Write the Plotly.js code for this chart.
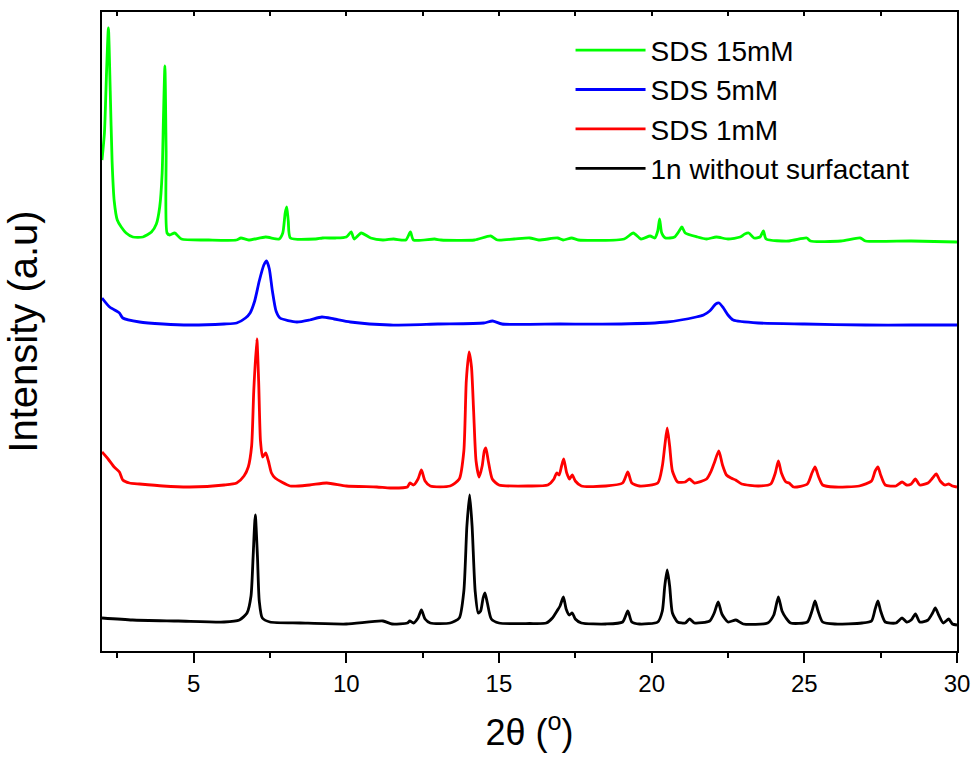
<!DOCTYPE html>
<html>
<head>
<meta charset="utf-8">
<script src="https://cdn.plot.ly/plotly-3.0.1.min.js"></script>
<style>html,body{margin:0;padding:0;background:#fff;}#chart{width:972px;height:758px;}</style>
</head>
<body>
<div id="chart"></div>
<script>
// 1n without surfactant
var blackX = [2.0,3.0,4.5,6.0,6.5,6.75,6.88,6.95,7.02,7.09,7.15,7.25,7.5,8.5,10,11.2,11.5,12.0,12.08,12.2,12.35,12.46,12.58,12.75,13.4,13.7,13.85,13.95,14.04,14.12,14.22,14.32,14.4,14.48,14.54,14.62,14.75,15.0,16.0,16.55,16.75,16.9,17.0,17.11,17.2,17.3,17.4,17.5,17.7,18.5,19.05,19.22,19.35,19.6,20.2,20.35,20.43,20.51,20.59,20.68,20.85,21.1,21.24,21.4,21.9,22.05,22.18,22.3,22.5,22.76,23.0,23.8,24.0,24.15,24.27,24.4,24.55,25.1,25.25,25.35,25.45,25.6,26.0,26.89,27.2,27.32,27.41,27.5,27.65,28.0,28.2,28.35,28.5,28.64,28.78,29.05,29.2,29.29,29.4,29.55,29.73,29.85,30];
var blackY = [33,31,30,29,31,38,55,95,136,95,50,33,29,28,27,30,27,28,30,28,33,41,32,28,28,33,60,125,156,125,60,38,40,53,58,48,32,28,27.5,28,33,40,45,54,42,36,38,32,28,27,29,40,29,27,29,40,65,81,65,38,29,28,32,28,30,38,49,37,29,31,27,28,36,54,40,33,28,29,40,50,40,29,27,28,30,42,50,40,29,28,33,29,31,37,29,31,38,43,36,28,32,27,26];

// SDS 1mM
var redX = [2.0,2.2,2.4,2.57,2.68,2.9,3.23,4.0,4.87,6.0,6.41,6.65,6.79,6.9,6.97,7.07,7.13,7.19,7.26,7.36,7.45,7.55,7.67,8.16,8.8,9.36,10.0,11.0,11.44,12.0,12.08,12.2,12.35,12.46,12.58,12.75,13.4,13.7,13.85,13.93,14.02,14.1,14.17,14.25,14.35,14.45,14.52,14.57,14.65,14.78,15.0,16.0,16.6,16.8,16.89,16.97,17.05,17.12,17.22,17.31,17.4,17.5,17.7,18.5,19.05,19.22,19.35,19.6,20.2,20.35,20.43,20.51,20.59,20.68,20.85,21.1,21.24,21.4,21.8,21.95,22.05,22.2,22.32,22.45,22.6,22.75,22.95,23.5,23.9,24.05,24.15,24.25,24.4,24.5,24.65,25.1,25.25,25.35,25.47,25.6,26.0,26.8,27.2,27.32,27.41,27.5,27.65,28.0,28.2,28.35,28.5,28.64,28.78,29.05,29.2,29.32,29.45,29.6,29.73,29.85,30];
var redY = [199,192,184,179,171,168,167,165,164,166,168,175,184,205,260,312,270,210,194,198,190,178,173,165,166,168,165,164,163,164,168,166,172,181,170,165,165,172,200,270,299,284,240,190,174,185,200,203,190,172,166,165,166,172,178,176,185,192,178,172,176,170,165,165,168,179,168,165,168,185,205,223,205,180,169,169,172,168,172,180,188,200,186,176,173,171,167,165,167,178,190,178,169,168,164,167,178,184,174,166,164,165,170,180,184,176,166,165,169,166,167,172,166,168,173,177,170,166,167,165,164];

// SDS 5mM
var blueX = [2.0,2.25,2.57,2.68,3.23,4.0,4.87,6.0,6.41,6.7,6.85,7.0,7.15,7.3,7.39,7.48,7.58,7.7,7.83,8.38,8.8,9.2,9.6,10.13,11.44,13,14.5,14.79,15.1,17,19,20.5,21.46,21.7,21.9,22.1,22.21,22.35,22.5,22.67,23.5,25,27,28.5,30];
var blueY = [353,344,338,333,329,327,326,327,328,333,338,350,370,386,390,382,360,340,333,329,331,334,332,329,326,327,328,330,327,327,327,329,334,336,340,347,348,343,336,331,328,327,326,326,326];

// SDS 15mM
var greenX = [2.0,2.08,2.15,2.21,2.27,2.33,2.4,2.5,2.63,2.79,3.01,3.34,3.62,3.78,3.89,3.97,4.01,4.06,4.1,4.13,4.22,4.38,4.6,5.5,6.4,6.55,6.8,7.36,7.8,7.92,8.0,8.05,8.1,8.17,9.0,9.22,9.64,10.0,10.16,10.26,10.49,10.8,11.2,11.55,11.95,12.1,12.2,12.89,13.1,14.2,14.73,14.95,15.5,16.01,16.3,16.92,17.1,17.38,17.6,19.1,19.4,19.65,19.95,20.1,20.2,20.26,20.33,20.45,20.75,20.9,20.99,21.1,21.5,21.8,22.12,22.5,22.9,23.05,23.18,23.35,23.55,23.66,23.75,24.5,25.08,25.2,26.2,26.83,27.0,28.5,30];
var greenY = [491,518,580,623,560,490,450,431,424,418,414,414,419,427,444,478,530,585,500,418,416,418,412,411,411,413,411,414,412,418,438,444,430,413,412,413,413,414,419,412,418,413,411,412,411,419,411,412,411,411,415,411,412,413,411,413,411,413,411,412,418,412,415,413,420,432,418,413,414,420,424,418,414,412,414,412,414,417,418,413,414,420,412,410,413,410,410,413,410,410,409];

var seriesNames = ['SDS 15mM','SDS 5mM','SDS 1mM','1n without surfactant'];
var seriesColors = ['#00ff00','#0000ff','#ff0000','#000000'];
var xTickVals = [5,10,15,20,25,30];
var xTickText = ['5','10','15','20','25','30'];

var xs = [greenX, blueX, redX, blackX];
var ys = [greenY, blueY, redY, blackY];
var traces = [];
for (var i = 0; i < 4; i++) {
  traces.push({
    x: xs[i], y: ys[i], type: 'scatter', mode: 'lines', name: seriesNames[i],
    line: {color: seriesColors[i], width: 2.8, shape: 'spline', smoothing: 0.6}
  });
}
// invisible trace to carry the mirrored top axis
traces.push({x: [2, 30], y: [0, 0], xaxis: 'x2', yaxis: 'y', mode: 'lines', showlegend: false,
  line: {color: 'rgba(0,0,0,0)'}, hoverinfo: 'skip'});

var font = 'Arial, "Liberation Sans", Helvetica, sans-serif';
var layout = {
  width: 972, height: 758,
  margin: {l: 102, r: 15, t: 12, b: 107},
  paper_bgcolor: '#fff', plot_bgcolor: '#fff',
  font: {family: font, color: '#000'},
  showlegend: true,
  legend: {x: 0.548, y: 0.979, xanchor: 'left', yanchor: 'top', font: {size: 28, family: font, color: '#000'},
    bgcolor: 'rgba(0,0,0,0)', borderwidth: 0, itemwidth: 70, tracegroupgap: 0},
  xaxis: {
    range: [2, 30], tickvals: xTickVals, ticktext: xTickText, ticks: 'outside', ticklen: 10, tickwidth: 2,
    tickcolor: '#000', tickfont: {size: 24, family: font, color: '#000'},
    minor: {dtick: 2.5, tick0: 0, ticks: 'outside', ticklen: 5, tickwidth: 2, tickcolor: '#000'},
    showline: true, linewidth: 2, linecolor: '#000', mirror: true, showgrid: false, zeroline: false,
    title: {text: '2θ (<sup>o</sup>)', font: {size: 36, family: font, color: '#000'}, standoff: 24}
  },
  xaxis2: {
    overlaying: 'x', side: 'top', range: [2, 30], dtick: 2.5, tick0: 0, ticks: 'inside', ticklen: 4, tickwidth: 2,
    tickcolor: '#000', showticklabels: false, showline: false, showgrid: false, zeroline: false
  },
  yaxis: {
    range: [0, 639], showticklabels: false, ticks: '', showline: true, linewidth: 2, linecolor: '#000', mirror: true,
    showgrid: false, zeroline: false,
    title: {text: 'Intensity (a.u)', font: {size: 40, family: font, color: '#000'}, standoff: 50}
  }
};
Plotly.newPlot('chart', traces, layout, {displayModeBar: false, staticPlot: true});
</script>
</body>
</html>
